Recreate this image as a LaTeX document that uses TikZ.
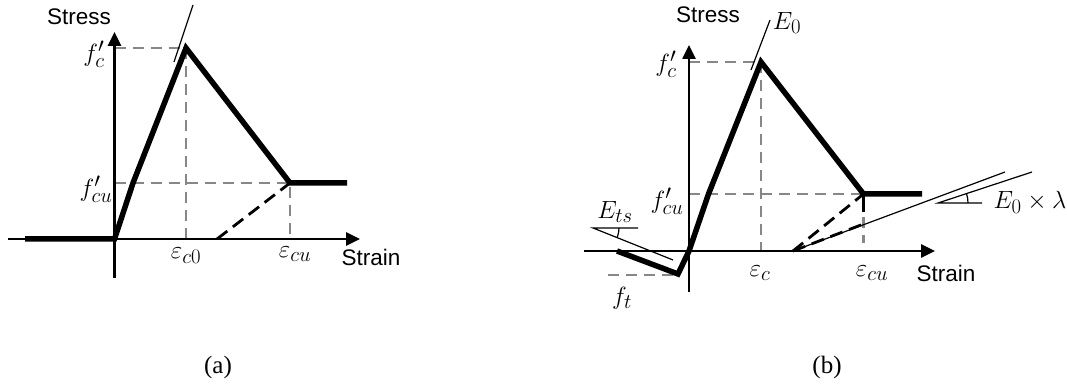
\documentclass[tikz,border=0pt]{standalone}
\usepackage{fontspec}
\setmainfont{Liberation Serif}
\newfontfamily\sansf{Liberation Sans}
\usetikzlibrary{arrows.meta,angles}
\DeclareMathSizes{26}{26}{20}{15}
\definecolor{dgray}{RGB}{135,135,135}
\tikzset{
  axisline/.style={line width=2.6pt,-{Triangle[length=14pt,width=13pt]}},
  curve/.style={line width=5.5pt,line join=miter},
  gdash/.style={dgray,line width=2.8pt,dash pattern=on 11pt off 7pt},
  bdash/.style={black,line width=2.8pt,dash pattern=on 13pt off 7pt},
  thinl/.style={line width=1.2pt},
  lbl/.style={inner sep=0pt,font=\fontsize{26}{30}\selectfont},
  sanslbl/.style={inner sep=0pt,font=\sansf\fontsize{22.5}{26}\selectfont},
  caplbl/.style={inner sep=0pt,font=\fontsize{25}{30}\selectfont},
  angmark/.style={draw,thinl}
}
\begin{document}
\begin{tikzpicture}[x=1pt,y=-1pt]
\useasboundingbox (0,0) rectangle (1067,387);
% ---------------- panel (a) ----------------
\coordinate (aO) at (114.5,239);
\coordinate (aYb) at (114.5,278);
\coordinate (aYt) at (114.5,32);
\coordinate (aXl) at (8,239);
\coordinate (aXr) at (360,239);
\coordinate (aL) at (25,239);
\coordinate (aK) at (133,183);
\coordinate (aP) at (186,48);
\coordinate (aU) at (290,183);
\coordinate (aE) at (347,183);
\coordinate (aPy) at (114.5,48);
\coordinate (aPx) at (186,239);
\coordinate (aUy) at (114.5,183);
\coordinate (aUx) at (290,239);
\coordinate (aR) at (217,239);
\coordinate (aT1) at (174,62);
\coordinate (aT2) at (193,5);
\draw[gdash] (aPy) -- (aP) -- (aPx);
\draw[gdash] (aUy) -- (aU) -- (aUx);
\draw[bdash] (aR) -- (aU);
\draw[axisline] (aYb) -- (aYt);
\draw[axisline] (aXl) -- (aXr);
\draw[curve] (aL) -- (aO) -- (aK) -- (aP) -- (aU) -- (aE);
\draw[thinl] (aT1) -- (aT2);
\node[sanslbl] (aStress) at (79,17) {Stress};
\node[sanslbl] (aStrain) at (371,257) {Strain};
\node[lbl] (afc) at (94,54) {$f_c'$};
\node[lbl] (afcu) at (96,189) {$f_{cu}'$};
\node[lbl] (aec0) at (186,256) {$\varepsilon_{c0}$};
\node[lbl] (aecu) at (295,254) {$\varepsilon_{cu}$};
\node[caplbl] (acap) at (218,367) {(a)};
% ---------------- panel (b) ----------------
\coordinate (bO) at (689,251);
\coordinate (bYb) at (689,292);
\coordinate (bYt) at (689,45);
\coordinate (bXl) at (584,251);
\coordinate (bXr) at (935,251);
\coordinate (bL) at (617,251);
\coordinate (bT) at (678,274);
\coordinate (bK) at (708.5,194);
\coordinate (bP) at (761,62);
\coordinate (bU) at (863.5,194);
\coordinate (bE) at (922,194);
\coordinate (bPy) at (689,62);
\coordinate (bPx) at (761,251);
\coordinate (bUy) at (689,194);
\coordinate (bUx) at (863.5,243);
\coordinate (bTl) at (608,275);
\coordinate (bTr) at (678,275);
\coordinate (bR) at (793,251);
\coordinate (bD) at (863.5,224);
\coordinate (bLong) at (1005,172);
\coordinate (bM) at (938,203);
\coordinate (bMh) at (982,203);
\coordinate (bMi) at (1032,172);
\coordinate (bS) at (593,228);
\coordinate (bSh) at (638,228);
\coordinate (bSi) at (673,260);
\coordinate (bE1) at (751,70);
\coordinate (bE2) at (770,20);
\draw[gdash] (bPy) -- (bP) -- (bPx);
\draw[gdash] (bUy) -- (bU) -- (bUx);
\draw[gdash] (bTl) -- (bTr);
\draw[bdash] (bR) -- (bU);
\draw[bdash] (bR) -- (bD);
\draw[line width=2.8pt] (863.5,196) -- (863.5,212);
\draw[axisline] (bYb) -- (bYt);
\draw[axisline] (bXl) -- (bXr);
\draw[curve] (bL) -- (bT) -- (bO) -- (bK) -- (bP) -- (bU) -- (bE);
\draw[thinl] (bE1) -- (bE2);
\draw[thinl] (bR) -- (bLong);
\draw[thinl] (bMh) -- (bM) -- (bMi);
\draw[thinl] (bSh) -- (bS) -- (bSi);
\pic[angmark,angle radius=30pt] {angle = bMh--bM--bMi};
\pic[angmark,angle radius=26pt] {angle = bSi--bS--bSh};
\node[sanslbl] (bStress) at (708,15) {Stress};
\node[sanslbl] (bStrain) at (946,273) {Strain};
\node[lbl] (bE0) at (787,23) {$E_0$};
\node[lbl] (bfc) at (666,64) {$f_c'$};
\node[lbl] (bfcu) at (667,201) {$f_{cu}'$};
\node[lbl] (bec) at (760,273) {$\varepsilon_c$};
\node[lbl] (becu) at (872,273) {$\varepsilon_{cu}$};
\node[lbl] (bEts) at (615,212) {$E_{ts}$};
\node[lbl] (bft) at (622,298) {$f_t$};
\node[lbl] (bEl) at (1030,202) {$E_0\times\lambda$};
\node[caplbl] (bcap) at (827,367) {(b)};
\end{tikzpicture}
\end{document}
